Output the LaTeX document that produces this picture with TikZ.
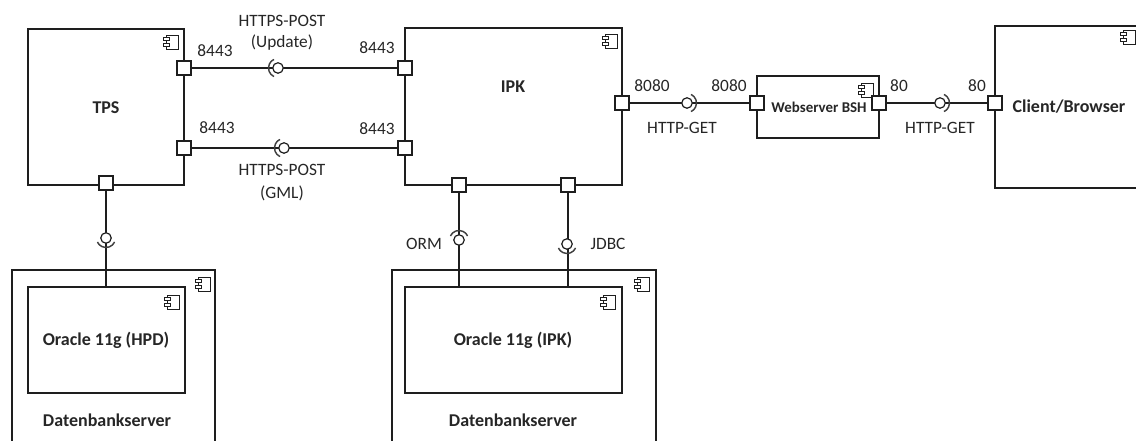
\documentclass[tikz,border=0pt]{standalone}
\usepackage{fontspec}
\setmainfont{Carlito}
\definecolor{ln}{HTML}{1E1E1E}
\definecolor{txt}{HTML}{262626}
\tikzset{
  compicon/.pic={
    \draw[draw=ln, line width=0.7pt, fill=white] (-5,-7) rectangle (7,7);
    \draw[draw=ln, line width=0.7pt, fill=white] (-8,-4.5) rectangle (-2,-1.5);
    \draw[draw=ln, line width=0.7pt, fill=white] (-8,1.5) rectangle (-2,4.5);
  }
}
\begin{document}
\begin{tikzpicture}[x=0.75pt,y=-0.75pt, line width=0.9pt,
  comp/.style={draw=ln, fill=white, inner sep=0pt},
  port/.style={draw=ln, fill=white, minimum size=14*0.75pt, inner sep=0pt},
  lbl/.style={text=txt, font=\fontsize{13}{15}\selectfont, inner sep=0pt},
  blbl/.style={text=txt, font=\bfseries\fontsize{13.5}{16}\selectfont, inner sep=0pt},
  slbl/.style={text=txt, font=\bfseries\fontsize{11.2}{13}\selectfont, inner sep=0pt},
  conn/.style={draw=ln},
  ball/.style={draw=ln, fill=white, circle, minimum size=10.5*0.75pt, inner sep=0pt},
  sock/.style={draw=ln!85, line width=1.1pt}
]
\useasboundingbox (0,0) rectangle (1136,441);
\clip (0,0) rectangle (1136,441);

% components
\node[comp, minimum width=156*0.75pt, minimum height=156*0.75pt] (tps) at (106,107) {};
\node[comp, minimum width=217*0.75pt, minimum height=157*0.75pt] (ipk) at (513.5,106.5) {};
\node[comp, minimum width=122*0.75pt, minimum height=62*0.75pt] (web) at (818,107) {};
\node[comp, minimum width=255*0.75pt, minimum height=162*0.75pt] (cli) at (1122.5,107) {};
\node[comp, minimum width=203*0.75pt, minimum height=210*0.75pt] (db1) at (113.5,375) {};
\node[comp, minimum width=157*0.75pt, minimum height=106*0.75pt] (db1in) at (106.5,340) {};
\node[comp, minimum width=264*0.75pt, minimum height=210*0.75pt] (db2) at (524,375) {};
\node[comp, minimum width=217*0.75pt, minimum height=106*0.75pt] (db2in) at (513.5,340) {};

% component icons
\pic at (171,42) {compicon};
\pic at (610,41) {compicon};
\pic at (866,90) {compicon};
\pic at (1128,37) {compicon};
\pic at (203,284) {compicon};
\pic at (172,302) {compicon};
\pic at (642,284) {compicon};
\pic at (608,302) {compicon};

% component labels
\node[blbl] (tpsl) at (106,108) {TPS};
\node[blbl] (ipkl) at (513,87) {IPK};
\node[slbl] (webl) at (819,107) {Webserver BSH};
\node[blbl, anchor=west] (clil) at (1012,107) {Client/Browser};
\node[blbl] (db1inl) at (106,340) {Oracle 11g (HPD)};
\node[blbl] (db1l) at (107,420) {Datenbankserver};
\node[blbl] (db2inl) at (513,340) {Oracle 11g (IPK)};
\node[blbl] (db2l) at (513,420) {Datenbankserver};

% ports
\node[port] (tpsP1) at (184,68) {};
\node[port] (tpsP2) at (184,148) {};
\node[port] (tpsP3) at (106,183) {};
\node[port] (ipkL1) at (405,68) {};
\node[port] (ipkL2) at (405,148) {};
\node[port] (ipkR) at (622,103) {};
\node[port] (ipkB1) at (459,185) {};
\node[port] (ipkB2) at (568,185) {};
\node[port] (webL) at (757,103) {};
\node[port] (webR) at (879,103) {};
\node[port] (cliL) at (995,103) {};

% connectors
\draw[conn] (tpsP1) -- (ipkL1);
\draw[conn] (tpsP2) -- (ipkL2);
\draw[conn] (ipkR) -- (webL);
\draw[conn] (webR) -- (cliL);
\draw[conn] (tpsP3) -- (tpsP3 |- db1in.north);
\draw[conn] (ipkB1) -- (ipkB1 |- db2in.north);
\draw[conn] (ipkB2) -- (ipkB2 |- db2in.north);

% balls and sockets
\node[ball] (b1) at (278,68) {};
\draw[sock] ([shift={(115:9.5)}]b1.center) arc[start angle=115, end angle=245, radius=9.5];
\node[ball] (b2) at (284,148) {};
\draw[sock] ([shift={(115:9.5)}]b2.center) arc[start angle=115, end angle=245, radius=9.5];
\node[ball] (b3) at (687,103) {};
\draw[sock] ([shift={(-65:9.5)}]b3.center) arc[start angle=-65, end angle=65, radius=9.5];
\node[ball] (b4) at (940,103) {};
\draw[sock] ([shift={(-65:9.5)}]b4.center) arc[start angle=-65, end angle=65, radius=9.5];
\node[ball] (b5) at (106,238) {};
\draw[sock] ([shift={(25:9.5)}]b5.center) arc[start angle=25, end angle=155, radius=9.5];
\node[ball] (b6) at (459,240) {};
\draw[sock] ([shift={(205:9.5)}]b6.center) arc[start angle=205, end angle=335, radius=9.5];
\node[ball] (b7) at (567,244) {};
\draw[sock] ([shift={(25:9.5)}]b7.center) arc[start angle=25, end angle=155, radius=9.5];

% connector labels
\node[lbl] (p1) at (215,51) {8443};
\node[lbl] (p2) at (217,128) {8443};
\node[lbl] (p3) at (377,48) {8443};
\node[lbl] (p4) at (377,129) {8443};
\node[lbl] (h1) at (282,21) {HTTPS-POST};
\node[lbl] (h1b) at (282,43) {(Update)};
\node[lbl] (h2) at (282,170) {HTTPS-POST};
\node[lbl] (h2b) at (282,193) {(GML)};
\node[lbl] (p5) at (652,86) {8080};
\node[lbl] (p6) at (729,86) {8080};
\node[lbl] (g1) at (682,128) {HTTP-GET};
\node[lbl] (p7) at (899,86) {80};
\node[lbl] (p8) at (977,86) {80};
\node[lbl] (g2) at (940,128) {HTTP-GET};
\node[lbl] (orm) at (424,244) {ORM};
\node[lbl] (jdbc) at (608,244) {JDBC};
\end{tikzpicture}
\end{document}
